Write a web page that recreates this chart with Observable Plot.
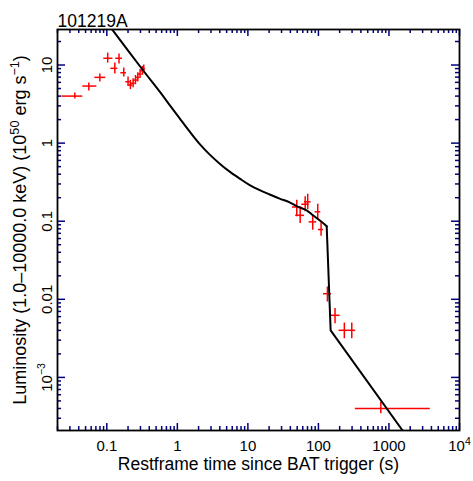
<!DOCTYPE html>
<html><head><meta charset="utf-8">
<script src="https://cdn.jsdelivr.net/npm/d3@7"></script>
<script src="https://cdn.jsdelivr.net/npm/@observablehq/plot@0.6"></script>
<style>
body{margin:0;background:#fff;}
svg{font-family:"Liberation Sans",Arial,Helvetica,sans-serif;background:#fff;color:#000;}
</style>
</head><body><div id="chart"></div>
<script>
const title = "101219A";
const xLabel = "Restframe time since BAT trigger (s)";
const yLabel = "Luminosity (1.0–10000.0 keV) (10⁵⁰ erg s⁻¹)";
const xTicks = [0.1, 1, 10, 100, 1000, 10000];
const xTickLabels = ["0.1", "1", "10", "100", "1000", "10⁴"];
const yTicks = [0.001, 0.01, 0.1, 1, 10];
const yTickLabels = ["10⁻³", "0.01", "0.1", "1", "10"];

// observed points (time, time range, luminosity, luminosity range)
const t   = [0.0352, 0.0556, 0.0797, 0.103, 0.130, 0.149, 0.174, 0.200, 0.216, 0.236, 0.255, 0.275, 0.296, 0.320, 0.334, 49.3, 55.1, 64.9, 70.5, 83.0, 97.8, 109, 134, 172, 233, 297, 767];
const tLo = [0.0231, 0.0457, 0.0676, 0.0907, 0.114, 0.134, 0.158, 0.186, 0.201, 0.220, 0.238, 0.257, 0.277, 0.300, 0.315, 42.9, 47.6, 58.0, 63.4, 73.8, 89.7, 100, 118, 146, 196, 266, 334];
const tHi = [0.0457, 0.0722, 0.0968, 0.122, 0.143, 0.167, 0.190, 0.215, 0.232, 0.253, 0.273, 0.294, 0.316, 0.341, 0.354, 58.0, 63.4, 73.8, 78.9, 94.6, 108, 118, 154, 203, 266, 337, 3855];
const L   = [4.0, 5.38, 6.95, 12.2, 9.07, 12.2, 7.96, 6.11, 5.54, 5.82, 6.42, 6.95, 7.67, 8.45, 8.9, 0.152, 0.119, 0.165, 0.177, 0.098, 0.132, 0.0782, 0.0118, 0.00624, 0.00401, 0.00401, 0.0004];
const LLo = [3.66, 4.64, 6.05, 10.6, 7.67, 10.3, 7.02, 5.35, 4.85, 5.1, 5.6, 6.07, 6.7, 7.4, 7.9, 0.114, 0.0934, 0.132, 0.141, 0.0767, 0.105, 0.0644, 0.00923, 0.00488, 0.00313, 0.00313, 0.000343];
const LHi = [4.37, 5.88, 7.67, 14.2, 10.6, 13.8, 9.15, 7.0, 6.35, 6.65, 7.35, 7.95, 8.75, 9.6, 10.0, 0.186, 0.141, 0.205, 0.222, 0.119, 0.165, 0.0954, 0.0144, 0.0076, 0.00497, 0.00497, 0.000482];

// model curve (smooth decay up to the knee, then a steep drop and a power-law tail)
const modelT = [0.118, 0.324, 0.563, 0.780, 1.08, 1.50, 2.08, 2.88, 3.99, 5.52, 7.66, 10.6, 14.7, 20.4, 28.2, 39.1, 51.3, 68.1, 83.6, 115, 131, 149, 1560];
const modelL = [28.9, 8.63, 4.55, 3.07, 2.07, 1.40, 0.971, 0.713, 0.546, 0.431, 0.351, 0.290, 0.250, 0.220, 0.195, 0.174, 0.153, 0.138, 0.119, 0.0957, 0.0863, 0.00401, 0.000209];
const kneeT = 131;

const points = t.map((v, i) => ({t: v, tLo: tLo[i], tHi: tHi[i], L: L[i], LLo: LLo[i], LHi: LHi[i]}));
const model = modelT.map((v, i) => ({t: v, L: modelL[i]}));

const xDom = [0.02, 10000], yDom = [0.000209, 28.5];
function minors(lo, hi, dom) {
  const out = [];
  for (let e = lo; e < hi; e++) for (let m = 2; m <= 9; m++) out.push(m * Math.pow(10, e));
  return out.filter(v => v >= dom[0] && v <= dom[1]);
}
const xMinor = minors(-2, 4, xDom);
const yMinor = minors(-4, 2, yDom);

const W = 473, H = 481, mL = 57, mR = 14, mT = 29, mB = 51;
const fw = W - mL - mR, fh = H - mT - mB;
const tc = "#000080";

const chart = Plot.plot({
  width: W,
  height: H,
  marginLeft: mL,
  marginRight: mR,
  marginTop: mT,
  marginBottom: mB,
  x: {type: "log", domain: xDom},
  y: {type: "log", domain: yDom},
  marks: [
    Plot.ruleY(points, {y: "L", x1: "tLo", x2: "tHi", stroke: "red", strokeWidth: 1.5, clip: true}),
    Plot.ruleX(points, {x: "t", y1: "LLo", y2: "LHi", stroke: "red", strokeWidth: 1.5, clip: true}),
    Plot.line(model.filter(d => d.t <= kneeT), {x: "t", y: "L", stroke: "black", strokeWidth: 2, curve: "catmull-rom", clip: true}),
    Plot.line(model.filter(d => d.t >= kneeT), {x: "t", y: "L", stroke: "black", strokeWidth: 2, clip: true}),
    // inward ticks on all four sides
    Plot.tickX(xTicks, {x: d => d, insetTop: fh - 7, stroke: tc, strokeWidth: 1.5}),
    Plot.tickX(xMinor, {x: d => d, insetTop: fh - 4, stroke: tc, strokeWidth: 1.5}),
    Plot.tickX(xTicks, {x: d => d, insetBottom: fh - 7, stroke: tc, strokeWidth: 1.5}),
    Plot.tickX(xMinor, {x: d => d, insetBottom: fh - 4, stroke: tc, strokeWidth: 1.5}),
    Plot.tickY(yTicks, {y: d => d, insetRight: fw - 8, stroke: tc, strokeWidth: 1.5}),
    Plot.tickY(yMinor, {y: d => d, insetRight: fw - 4, stroke: tc, strokeWidth: 1.5}),
    Plot.tickY(yTicks, {y: d => d, insetLeft: fw - 8, stroke: tc, strokeWidth: 1.5}),
    Plot.tickY(yMinor, {y: d => d, insetLeft: fw - 4, stroke: tc, strokeWidth: 1.5}),
    Plot.axisX(xTicks, {anchor: "bottom", tickSize: 0, tickPadding: 10, fontSize: 15, label: null,
      tickFormat: d => xTickLabels[xTicks.indexOf(d)]}),
    Plot.axisY(yTicks, {anchor: "left", tickSize: 0, tickPadding: 6, tickRotate: -90, fontSize: 15, label: null,
      tickFormat: d => yTickLabels[yTicks.indexOf(d)]}),
    Plot.frame({stroke: "black", strokeWidth: 1.8}),
    Plot.text([title], {frameAnchor: "top-left", dy: -15, textAnchor: "start", fontSize: 17.5}),
    Plot.text([xLabel], {frameAnchor: "bottom", dy: 39, textAnchor: "middle", fontSize: 17.5}),
    Plot.text([yLabel], {frameAnchor: "left", dx: -37, dy: 0, rotate: -90, textAnchor: "middle", fontSize: 18})
  ]
});

// render unicode superscripts as raised, smaller tspans (still real text)
const supMap = {"⁰":"0","¹":"1","²":"2","³":"3","⁴":"4","⁵":"5","⁶":"6","⁷":"7","⁸":"8","⁹":"9","⁻":"−"};
d3.select(chart).selectAll("text").each(function () {
  if (this.querySelector("tspan")) return;
  const s = this.textContent;
  if (![...s].some(c => c in supMap)) return;
  const runs = [];
  for (const c of s) {
    const sup = c in supMap, ch = sup ? supMap[c] : c;
    if (runs.length && runs[runs.length - 1].sup === sup) runs[runs.length - 1].text += ch;
    else runs.push({sup, text: ch});
  }
  this.textContent = "";
  const el = d3.select(this);
  let prevSup = false;
  for (const r of runs) {
    const ts = el.append("tspan").text(r.text);
    if (r.sup) ts.attr("font-size", "70%").attr("dy", "-0.6em");
    else if (prevSup) ts.attr("dy", "0.42em");
    prevSup = r.sup;
  }
});
document.getElementById("chart").appendChild(chart);
</script>
</body></html>
